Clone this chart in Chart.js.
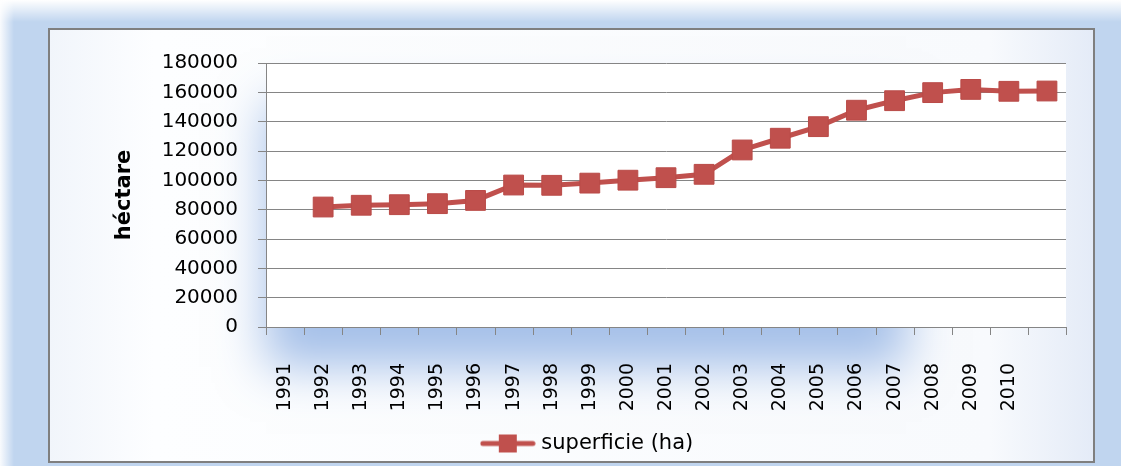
<!DOCTYPE html>
<html>
<head>
<meta charset="utf-8">
<title>superficie (ha)</title>
<script src="https://cdn.jsdelivr.net/npm/chart.js@4.4.1/dist/chart.umd.min.js"></script>
<style>
  html, body { margin: 0; padding: 0; background: #c0d5ef; }
  #wrap { width: 1121px; height: 466px; position: relative; }
</style>
</head>
<body>
<div id="wrap"><canvas id="grafico" width="1121" height="466"></canvas></div>
<script>
// datos
const anios = ["1991", "1992", "1993", "1994", "1995", "1996", "1997", "1998", "1999", "2000",
  "2001", "2002", "2003", "2004", "2005", "2006", "2007", "2008", "2009", "2010"];
const superficie = [81800, 83000, 83400, 84100, 86300, 96800, 96600, 98100, 100100, 101800,
  104100, 120700, 128700, 136600, 147800, 154300, 159800, 162000, 160700, 160900];
const ticksY = [0, 20000, 40000, 60000, 80000, 100000, 120000, 140000, 160000, 180000];

// en el original el primer espacio queda vacio y el ultimo sin etiqueta
const etiquetas = [...anios, ""];
const valores = [null, ...superficie];

const rojo = "#c0504d";
const gris = "#858585";
const fuente = "'DejaVu Sans', sans-serif";

// icono de la leyenda: linea + cuadrado
const icono = document.createElement("canvas");
icono.width = 56;
icono.height = 20;
const ic = icono.getContext("2d");
ic.strokeStyle = rojo;
ic.lineWidth = 5;
ic.lineCap = "round";
ic.beginPath();
ic.moveTo(3, 10);
ic.lineTo(53, 10);
ic.stroke();
ic.fillStyle = rojo;
ic.fillRect(19, 1, 18, 18);

// fondo estilo excel
const fondo = {
  id: "fondo",
  beforeDraw(chart) {
    const ctx = chart.ctx;
    const W = chart.width, H = chart.height;
    const a = chart.chartArea;
    ctx.save();
    ctx.fillStyle = "#c0d5ef";
    ctx.fillRect(0, 0, W, H);
    let g = ctx.createLinearGradient(0, 0, 0, 22);
    g.addColorStop(0, "rgba(255,255,255,1)");
    g.addColorStop(1, "rgba(255,255,255,0)");
    ctx.fillStyle = g;
    ctx.fillRect(0, 0, W, 22);
    g = ctx.createLinearGradient(0, 0, 14, 0);
    g.addColorStop(0, "rgba(255,255,255,0.9)");
    g.addColorStop(1, "rgba(255,255,255,0)");
    ctx.fillStyle = g;
    ctx.fillRect(0, 0, 14, H);

    // caja del grafico
    const bx = 49, by = 29, bw = 1045, bh = 433;
    g = ctx.createLinearGradient(bx, 0, bx + bw, 0);
    g.addColorStop(0, "#f1f5fb");
    g.addColorStop(0.1, "#fdfeff");
    g.addColorStop(0.9, "#f8fafd");
    g.addColorStop(1, "#e4ebf7");
    ctx.fillStyle = g;
    ctx.fillRect(bx, by, bw, bh);
    ctx.beginPath();
    ctx.rect(bx, by, bw, bh);
    ctx.clip();
    ctx.shadowColor = "rgba(165,192,233,1)";
    ctx.shadowBlur = 45;
    ctx.shadowOffsetX = -40;
    ctx.shadowOffsetY = 40;
    ctx.fillStyle = "#ffffff";
    ctx.fillRect(a.left + 40, a.top, a.right - a.left - 160, a.bottom - a.top);
    ctx.restore();

    ctx.save();
    ctx.fillStyle = "#ffffff";
    ctx.fillRect(a.left, a.top, a.right - a.left, a.bottom - a.top);
    ctx.strokeStyle = "#7f7f7f";
    ctx.lineWidth = 2;
    ctx.strokeRect(bx, by, bw, bh);
    ctx.restore();
  }
};

// marcas del eje x entre categorias (sin lineas verticales en el area)
const marcasX = {
  id: "marcasX",
  afterDatasetsDraw(chart) {
    const ctx = chart.ctx;
    const sx = chart.scales.x;
    const n = sx.ticks.length;
    const paso = sx.getPixelForTick(1) - sx.getPixelForTick(0);
    ctx.save();
    ctx.strokeStyle = gris;
    ctx.lineWidth = 1;
    ctx.beginPath();
    for (let i = 0; i <= n; i++) {
      const px = Math.round(sx.getPixelForTick(0) - paso / 2 + i * paso) + 0.5;
      ctx.moveTo(px, sx.top);
      ctx.lineTo(px, sx.top + 8);
    }
    ctx.stroke();
    ctx.restore();
  }
};

const config = {
  type: "line",
  data: {
    labels: etiquetas,
    datasets: [{
      label: "superficie (ha)",
      data: valores,
      borderColor: rojo,
      backgroundColor: rojo,
      borderWidth: 5,
      pointStyle: "rect",
      pointRadius: 14,
      pointBackgroundColor: rojo,
      pointBorderColor: "#b94a47",
      pointBorderWidth: 1,
      tension: 0,
      spanGaps: false
    }]
  },
  options: {
    responsive: false,
    animation: false,
    layout: { padding: { left: 112, right: 55, top: 63, bottom: 2 } },
    plugins: {
      tooltip: { enabled: false },
      legend: {
        position: "bottom",
        labels: {
          usePointStyle: true,
          pointStyleWidth: 46,
          padding: 10,
          color: "#000",
          font: { family: fuente, size: 21 },
          generateLabels: () => [{
            text: "superficie (ha)",
            pointStyle: icono,
            fillStyle: rojo,
            strokeStyle: rojo,
            lineWidth: 0,
            datasetIndex: 0
          }]
        }
      }
    },
    scales: {
      x: {
        offset: true,
        grid: { display: false, tickLength: 8 },
        border: { display: true, color: gris, width: 1 },
        ticks: {
          autoSkip: false,
          minRotation: 90,
          maxRotation: 90,
          padding: 28,
          color: "#000",
          font: { family: fuente, size: 19 }
        },
        afterFit: (s) => { s.height = 96; }
      },
      y: {
        min: 0,
        max: 180000,
        afterBuildTicks: (s) => { s.ticks = ticksY.map(v => ({ value: v })); },
        grid: { color: gris, tickLength: 8, lineWidth: 1 },
        border: { color: gris, width: 1 },
        ticks: {
          padding: 20,
          color: "#000",
          font: { family: fuente, size: 20 },
          callback: (v) => String(v)
        },
        title: {
          display: true,
          text: "héctare",
          color: "#000",
          padding: 0,
          font: { family: fuente, size: 21, weight: "bold" }
        },
        afterFit: (s) => { s.width = 266 - 112; }
      }
    }
  },
  plugins: [fondo, marcasX]
};

window.miGrafico = new Chart(document.getElementById("grafico"), config);
</script>
</body>
</html>
